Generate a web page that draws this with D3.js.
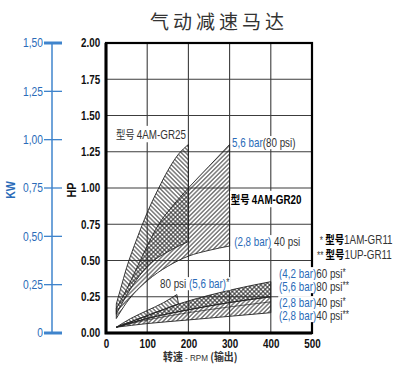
<!DOCTYPE html>
<html>
<head>
<meta charset="utf-8">
<script src="https://cdn.jsdelivr.net/npm/d3@7/dist/d3.min.js"></script>
<style>
body { margin: 0; background: #fff; }
text { font-family: "Liberation Sans", Arial, sans-serif; }
.cjk { font-family: "Noto Sans CJK SC", sans-serif; }
</style>
</head>
<body>
<svg id="chart" width="400" height="385"></svg>
<script>

// axes
var xTicks = [0, 100, 200, 300, 400, 500];
var hpTicks = [0, 0.25, 0.5, 0.75, 1, 1.25, 1.5, 1.75, 2];
var kwTicks = [0, 0.25, 0.5, 0.75, 1, 1.25, 1.5];
var kwLabels = ["0", "0,25", "0,50", "0,75", "1,00", "1,25", "1,50"];

// [rpm, hp]  model 4AM-GR25 band
var gr25Upper = [[25, 0.2], [35, 0.3], [50, 0.45], [75, 0.65], [100, 0.83], [128, 1.0], [150, 1.12], [175, 1.23], [200, 1.3]];
var gr25Lower = [[25, 0.13], [50, 0.26], [75, 0.37], [104, 0.47], [150, 0.56], [200, 0.63]];
// model 4AM-GR20 band
var gr20Upper = [[25, 0.17], [50, 0.3], [75, 0.45], [100, 0.6], [128, 0.75], [160, 0.87], [200, 1.0], [250, 1.15], [300, 1.3]];
var gr20Lower = [[25, 0.1], [50, 0.21], [100, 0.36], [150, 0.46], [200, 0.53], [250, 0.57], [300, 0.6]];
// models 1AM-GR11 / 1UP-GR11
var l80s = [[25, 0.04], [60, 0.1], [100, 0.155], [140, 0.21], [172, 0.265]];
var l60s = [[25, 0.04], [100, 0.12], [176, 0.2], [250, 0.26], [300, 0.295], [400, 0.354]];
var l80ss = [[25, 0.04], [100, 0.1], [200, 0.16], [300, 0.21], [400, 0.25]];
var l40s = [[25, 0.04], [100, 0.09], [200, 0.14], [300, 0.18], [400, 0.215]];
var l40ss = [[25, 0.04], [100, 0.065], [200, 0.09], [300, 0.115], [400, 0.14]];

var blue = "#2a6bb8", grey = "#333";

// annotation texts: [text, colour, cjk?, bold?, small?]
var notes = [
  {at: [24, 1.338], bg: true, parts: [["型号 ", grey, 1, 0], ["4AM-GR25", grey, 0, 0]]},
  {at: [306, 1.283], bg: true, parts: [["5,6 bar", blue, 0, 0], ["(80 psi)", grey, 0, 0]]},
  {at: [303, 0.89], bg: true, parts: [["型号 ", "#000", 1, 1], ["4AM-GR20", "#000", 0, 1]]},
  {at: [311, 0.6], bg: true, parts: [["(2,8 bar)", blue, 0, 0], [" 40 psi", grey, 0, 0]]},
  {at: [131, 0.31], bg: true, parts: [["80 psi ", grey, 0, 0], ["(5,6 bar)", blue, 0, 0], ["*", grey, 0, 0, 1]]},
  {at: [420, 0.379], bg: true, parts: [["(4,2 bar)", blue, 0, 0], ["60 psi", grey, 0, 0], ["*", grey, 0, 0, 1]]},
  {at: [420, 0.29], bg: true, parts: [["(5,6 bar)", blue, 0, 0], ["80 psi", grey, 0, 0], ["**", grey, 0, 0, 1]]},
  {at: [420, 0.179], bg: true, parts: [["(2,8 bar)", blue, 0, 0], ["40 psi", grey, 0, 0], ["*", grey, 0, 0, 1]]},
  {at: [420, 0.09], bg: true, parts: [["(2,8 bar)", blue, 0, 0], ["40 psi", grey, 0, 0], ["**", grey, 0, 0, 1]]},
  {at: [519, 0.6], bg: false, parts: [["* ", grey, 0, 0, 1], ["型号", "#000", 1, 1], ["1AM-GR11", grey, 0, 0]]},
  {at: [512, 0.497], bg: false, parts: [["** ", grey, 0, 0, 1], ["型号", "#000", 1, 1], ["1UP-GR11", grey, 0, 0]]}
];

var svg = d3.select("#chart");
var defs = svg.append("defs");

var x = d3.scaleLinear().domain([0, 500]).range([106, 312]);
var y = d3.scaleLinear().domain([0, 2]).range([333, 43]);
var kw = d3.scaleLinear().domain([0, 1.5]).range([333, 43]);

var narrow = "scale(0.82,1)";

// a group at (px, py) whose content is squeezed like a narrow face
function narrowAt(parent, px, py) {
  return parent.append("g").attr("transform", "translate(" + px + "," + py + ")")
    .append("g").attr("transform", narrow);
}

function hatch(id, angle) {
  var p = defs.append("pattern")
    .attr("id", id)
    .attr("patternUnits", "userSpaceOnUse")
    .attr("width", 3.1).attr("height", 3.1)
    .attr("patternTransform", "rotate(" + angle + ")");
  p.append("line")
    .attr("x1", 1.55).attr("y1", 0).attr("x2", 1.55).attr("y2", 3.1)
    .attr("stroke", "#222").attr("stroke-width", 0.9);
}
hatch("back", -45);
hatch("fwd", 45);

// title
svg.append("text").attr("class", "cjk")
  .attr("x", 150).attr("y", 29)
  .attr("font-size", 19).attr("letter-spacing", 4)
  .attr("fill", grey)
  .text("气动减速马达");

// grid
svg.append("g").selectAll("line").data(xTicks.slice(1, -1)).enter().append("line")
  .attr("x1", function(d) { return x(d); }).attr("x2", function(d) { return x(d); })
  .attr("y1", y(0)).attr("y2", y(2))
  .attr("stroke", "#3c3c3c").attr("stroke-width", 1.1);
svg.append("g").selectAll("line").data(hpTicks.slice(1, -1)).enter().append("line")
  .attr("y1", function(d) { return y(d); }).attr("y2", function(d) { return y(d); })
  .attr("x1", x(0)).attr("x2", x(500))
  .attr("stroke", "#3c3c3c").attr("stroke-width", 1.1);

// bands
var line = d3.line()
  .x(function(d) { return x(d[0]); })
  .y(function(d) { return y(d[1]); })
  .curve(d3.curveMonotoneX);

function band(top, bottom) {
  return line(top) + "L" + line(bottom.slice().reverse()).slice(1) + "Z";
}

function drawBand(top, bottom, pats) {
  pats.forEach(function(p) {
    svg.append("path").attr("d", band(top, bottom))
      .attr("fill", "url(#" + p + ")").attr("stroke", "none");
  });
  svg.append("path").attr("d", band(top, bottom))
    .attr("fill", "none").attr("stroke", "#222").attr("stroke-width", 0.9);
}

drawBand(gr20Upper, gr20Lower, ["fwd"]);
drawBand(gr25Upper, gr25Lower, ["back"]);

drawBand(l60s, l80ss, ["fwd", "back"]);
drawBand(l80ss, l40ss, ["fwd"]);
drawBand(l80s, l60s.filter(function(d) { return d[0] <= 176; }), ["back"]);
svg.append("path").attr("d", line(l40s))
  .attr("fill", "none").attr("stroke", "#222").attr("stroke-width", 0.7);

// frame
svg.append("rect")
  .attr("x", x(0)).attr("y", y(2))
  .attr("width", x(500) - x(0)).attr("height", y(0) - y(2))
  .attr("fill", "none").attr("stroke", "#000").attr("stroke-width", 2.2);
svg.append("path")
  .attr("d", "M" + x(0) + "," + y(2) + "V" + y(0) + "H" + x(500))
  .attr("fill", "none").attr("stroke", "#000").attr("stroke-width", 3);

// HP axis
var gy = svg.append("g").attr("transform", "translate(" + x(0) + ",0)")
  .call(d3.axisLeft(y).tickValues(hpTicks).tickFormat(d3.format(".2f")).tickSize(0).tickPadding(7));
gy.select(".domain").remove();
gy.selectAll("text").attr("font-size", 12).attr("font-weight", "bold").attr("fill", "#111")
  .attr("transform", narrow);

// RPM axis
var gx = svg.append("g").attr("transform", "translate(0," + y(0) + ")")
  .call(d3.axisBottom(x).tickValues(xTicks).tickSize(0).tickPadding(6));
gx.select(".domain").remove();
gx.selectAll("text").attr("font-size", 12).attr("font-weight", "bold").attr("fill", "#111")
  .attr("transform", narrow);

var xt = svg.append("g").attr("transform", "translate(163,361) scale(0.9,1)")
  .append("text").attr("font-size", 11).attr("fill", grey);
xt.append("tspan").attr("class", "cjk").attr("font-weight", "bold").text("转速");
xt.append("tspan").attr("font-size", 9).text(" - RPM ");
xt.append("tspan").attr("class", "cjk").attr("font-weight", "bold").text("(输出)");

svg.append("g").attr("transform", "translate(76,190) rotate(-90)")
  .append("text")
  .attr("transform", narrow)
  .attr("text-anchor", "middle")
  .attr("font-size", 13).attr("font-weight", "bold").attr("fill", "#111")
  .text("HP");

// KW axis
var kwX = 52;
svg.append("line").attr("x1", kwX).attr("x2", kwX).attr("y1", kw(0)).attr("y2", kw(1.5))
  .attr("stroke", "#3f84cc").attr("stroke-width", 1.5);
svg.append("g").selectAll("line").data(kwTicks).enter().append("line")
  .attr("x1", 44).attr("x2", 62)
  .attr("y1", function(d) { return kw(d); }).attr("y2", function(d) { return kw(d); })
  .attr("stroke", "#3f84cc")
  .attr("stroke-width", function(d, i) { return (i === 0 || i === kwTicks.length - 1) ? 3 : 1.3; });
kwTicks.forEach(function(d, i) {
  narrowAt(svg, 43, kw(d)).append("text")
    .attr("dy", "0.35em")
    .attr("text-anchor", "end")
    .attr("font-size", 12.5).attr("fill", blue)
    .text(kwLabels[i]);
});
svg.append("g").attr("transform", "translate(15,190) rotate(-90)")
  .append("text")
  .attr("transform", narrow)
  .attr("text-anchor", "middle")
  .attr("font-size", 13).attr("font-weight", "bold").attr("fill", blue)
  .text("KW");

// annotations
notes.forEach(function(n) {
  var g = narrowAt(svg, x(n.at[0]), y(n.at[1]));
  var t = g.append("text").attr("font-size", 12);
  n.parts.forEach(function(p) {
    var s = t.append("tspan").attr("fill", p[1]).text(p[0]);
    if (p[2]) s.attr("class", "cjk").attr("font-size", 11.5);
    if (p[3]) s.attr("font-weight", "bold");
    if (p[4]) s.attr("font-size", 10).attr("dy", -2);
  });
  if (n.bg) {
    var b = t.node().getBBox();
    g.insert("rect", "text")
      .attr("x", b.x - 1).attr("y", b.y)
      .attr("width", b.width + 2).attr("height", b.height)
      .attr("fill", "#fff");
  }
});

</script>
</body>
</html>
